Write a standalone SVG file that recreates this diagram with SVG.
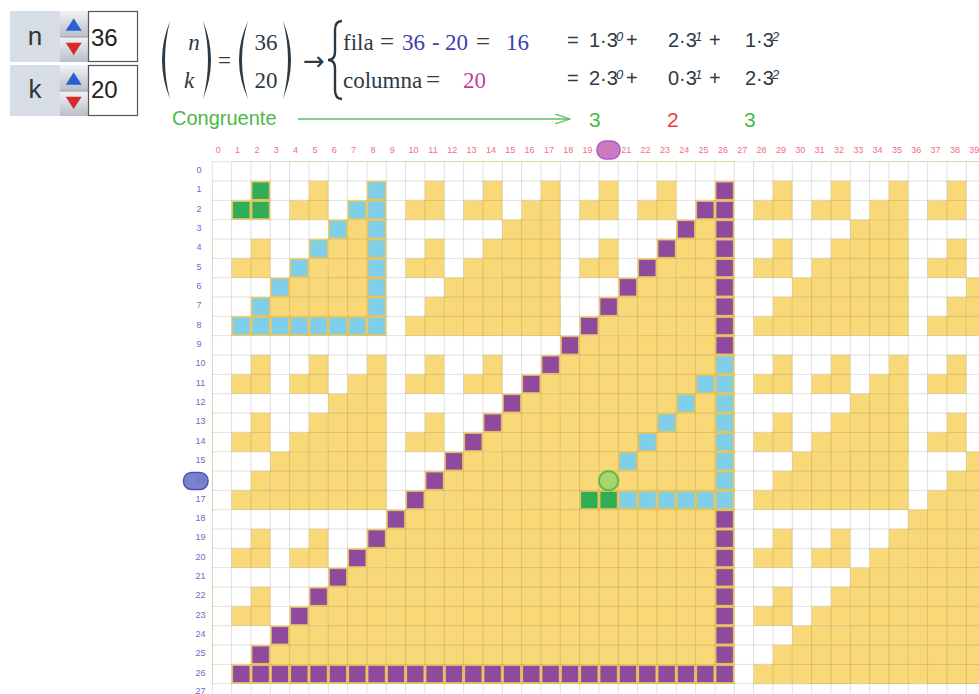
<svg xmlns="http://www.w3.org/2000/svg" width="979" height="694" viewBox="0 0 979 694">
<defs>
<style>
.cl{font-family:"Liberation Sans",Arial,sans-serif;font-size:9px;fill:#f2707a;text-anchor:middle}
.rl{font-family:"Liberation Sans",Arial,sans-serif;font-size:9px;fill:#6a6ec2;text-anchor:middle}
.p{fill:#8f4a9e}
.c{fill:#80cfe8}
.g{fill:#2fad57}
.cell{stroke:#e6c35a;stroke-width:1;vector-effect:non-scaling-stroke}
.serif{font-family:"Liberation Serif","Times New Roman",serif;font-size:23px;fill:#2d3a44}
.sans{font-family:"Liberation Sans",Arial,sans-serif;font-size:20px;fill:#2d3a44}
.sup{font-size:13px;font-style:italic}
.blue{fill:#3c3fae}
.mag{fill:#c2409f}
.inlbl{font-family:"Liberation Sans",Arial,sans-serif;font-size:26px;fill:#333;text-anchor:middle}
.innum{font-family:"Liberation Sans",Arial,sans-serif;font-size:24px;fill:#222}
.paren{fill:#2d3a44}
</style>
<linearGradient id="spg" x1="0" y1="0" x2="0" y2="1">
<stop offset="0" stop-color="#f1f3f6"/>
<stop offset="1" stop-color="#b9bfc7"/>
</linearGradient>
<pattern id="p0" width="3" height="3" patternUnits="userSpaceOnUse"><path d="M2,1H3V3H1V2H2Z" fill="#f9d977"/></pattern>
<pattern id="p1" width="9" height="9" patternUnits="userSpaceOnUse"><path d="M6,3H9V9H3V6H6Z" fill="#f9d977"/></pattern>
<pattern id="p2" width="27" height="27" patternUnits="userSpaceOnUse"><path d="M18,9H27V27H9V18H18Z" fill="#f9d977"/></pattern>
<rect id="k" class="cell" x=".05" y=".05" width=".9" height=".9"/>
<marker id="ah" markerWidth="16" markerHeight="12" refX="15" refY="5" orient="auto" markerUnits="userSpaceOnUse"><path d="M0,0L15,5L0,10" fill="none" stroke="#5cbf5a" stroke-width="1.3"/></marker>
</defs>

<g id="input-n">
<rect x="10" y="11" width="50" height="51" fill="#d6dde5"/>
<text class="inlbl" x="35" y="45">n</text>
<rect x="60" y="11" width="28" height="26" fill="url(#spg)"/>
<rect x="60" y="37" width="28" height="25" fill="url(#spg)"/>
<line x1="60" y1="37" x2="88" y2="37" stroke="#9aa0a8"/>
<path d="M65.7,30.7H81.7L73.7,18.3Z" fill="#2b5fd4"/>
<path d="M65.7,42.7H81.7L73.7,55Z" fill="#d62a2a"/>
<rect x="88.5" y="11.5" width="49" height="50" fill="#fff" stroke="#555" stroke-width="1.2"/>
<text class="innum" x="91" y="45.5">36</text>
</g>
<g id="input-k">
<rect x="10" y="65" width="50" height="51" fill="#d6dde5"/>
<text class="inlbl" x="35" y="98">k</text>
<rect x="60" y="65" width="28" height="26" fill="url(#spg)"/>
<rect x="60" y="91" width="28" height="25" fill="url(#spg)"/>
<line x1="60" y1="91" x2="88" y2="91" stroke="#9aa0a8"/>
<path d="M65.7,84.7H81.7L73.7,72.3Z" fill="#2b5fd4"/>
<path d="M65.7,96.7H81.7L73.7,109Z" fill="#d62a2a"/>
<rect x="88.5" y="65.5" width="49" height="50" fill="#fff" stroke="#555" stroke-width="1.2"/>
<text class="innum" x="91" y="98">20</text>
</g>

<g id="formula">
<path class="paren" d="M170,21Q154,60 170,99Q160,60 170,21Z"/>
<path class="paren" d="M203,21Q219,60 203,99Q213,60 203,21Z"/>
<text class="serif" x="194" y="50" text-anchor="middle" font-style="italic">n</text>
<text class="serif" x="189" y="88" text-anchor="middle" font-style="italic">k</text>
<text class="serif" x="224.5" y="68" text-anchor="middle" font-size="25">=</text>
<path class="paren" d="M248,21Q230,60 248,99Q236,60 248,21Z"/>
<path class="paren" d="M283,21Q299,60 283,99Q293,60 283,21Z"/>
<text class="serif" x="266" y="50" text-anchor="middle" font-size="25">36</text>
<text class="serif" x="266" y="88" text-anchor="middle" font-size="25">20</text>
<text x="303" y="70" font-family="DejaVu Sans,sans-serif" font-size="26" fill="#2d3a44">→</text>
<path d="M342,21Q335,21 335,30L335,52Q335,60 328,60Q335,60 335,68L335,90Q335,99 342,99" fill="none" stroke="#2d3a44" stroke-width="2.4"/>
<text class="serif" y="50"><tspan x="343">fila</tspan><tspan x="380" font-size="25">=</tspan><tspan x="402" class="blue">36</tspan><tspan x="432" class="blue">-</tspan><tspan x="445" class="blue">20</tspan><tspan x="476" font-size="25">=</tspan><tspan x="506" class="blue">16</tspan></text>
<text class="serif" y="88"><tspan x="343">columna</tspan><tspan x="426" font-size="25">=</tspan><tspan x="463" class="mag">20</tspan></text>
<text class="sans" y="47"><tspan x="567">=</tspan><tspan x="589">1·3</tspan><tspan x="616" y="41" class="sup">0</tspan><tspan x="626" y="47">+</tspan><tspan x="668">2·3</tspan><tspan x="695" y="41" class="sup">1</tspan><tspan x="709" y="47">+</tspan><tspan x="745">1·3</tspan><tspan x="772" y="41" class="sup">2</tspan></text>
<text class="sans" y="85"><tspan x="567">=</tspan><tspan x="589">2·3</tspan><tspan x="616" y="79" class="sup">0</tspan><tspan x="626" y="85">+</tspan><tspan x="668">0·3</tspan><tspan x="695" y="79" class="sup">1</tspan><tspan x="709" y="85">+</tspan><tspan x="745">2·3</tspan><tspan x="772" y="79" class="sup">2</tspan></text>
</g>

<g id="congruence" font-family="Liberation Sans,Arial,sans-serif">
<text x="172" y="125" font-size="20" fill="#4cb848">Congruente</text>
<text x="589" y="127" font-size="21" fill="#4cb848">3</text>
<text x="667" y="127" font-size="21" fill="#f03c3c">2</text>
<text x="744" y="127" font-size="21" fill="#4cb848">3</text>
</g>

<g id="connectors">
<line x1="298" y1="119" x2="570" y2="119" stroke="#5cbf5a" stroke-width="1.3" marker-end="url(#ah)"/>
</g>

<g id="grid" transform="translate(212.3 161.7) scale(19.3333)">
<rect width="40" height="28" fill="#fff"/>
<rect width="40" height="28" fill="url(#p0)"/>
<rect width="40" height="28" fill="url(#p1)"/>
<rect width="40" height="28" fill="url(#p2)"/>
<path fill="none" stroke="#000" stroke-opacity=".12" stroke-width="1" vector-effect="non-scaling-stroke" d="M0 0V28M1 0V28M2 0V28M3 0V28M4 0V28M5 0V28M6 0V28M7 0V28M8 0V28M9 0V28M10 0V28M11 0V28M12 0V28M13 0V28M14 0V28M15 0V28M16 0V28M17 0V28M18 0V28M19 0V28M20 0V28M21 0V28M22 0V28M23 0V28M24 0V28M25 0V28M26 0V28M27 0V28M28 0V28M29 0V28M30 0V28M31 0V28M32 0V28M33 0V28M34 0V28M35 0V28M36 0V28M37 0V28M38 0V28M39 0V28M40 0V28M0 0H40M0 1H40M0 2H40M0 3H40M0 4H40M0 5H40M0 6H40M0 7H40M0 8H40M0 9H40M0 10H40M0 11H40M0 12H40M0 13H40M0 14H40M0 15H40M0 16H40M0 17H40M0 18H40M0 19H40M0 20H40M0 21H40M0 22H40M0 23H40M0 24H40M0 25H40M0 26H40M0 27H40M0 28H40"/>
<g id="green-cells" class="g">
<use href="#k" x="2" y="1"/><use href="#k" x="1" y="2"/><use href="#k" x="2" y="2"/>
<use href="#k" x="19" y="17"/><use href="#k" x="20" y="17"/>
</g>
<g id="cyan-cells" class="c">
<use href="#k" x="1" y="8"/><use href="#k" x="2" y="8"/><use href="#k" x="3" y="8"/><use href="#k" x="4" y="8"/><use href="#k" x="5" y="8"/><use href="#k" x="6" y="8"/><use href="#k" x="7" y="8"/><use href="#k" x="8" y="8"/>
<use href="#k" x="8" y="1"/><use href="#k" x="8" y="2"/><use href="#k" x="8" y="3"/><use href="#k" x="8" y="4"/><use href="#k" x="8" y="5"/><use href="#k" x="8" y="6"/><use href="#k" x="8" y="7"/>
<use href="#k" x="7" y="2"/><use href="#k" x="6" y="3"/><use href="#k" x="5" y="4"/><use href="#k" x="4" y="5"/><use href="#k" x="3" y="6"/><use href="#k" x="2" y="7"/>
<use href="#k" x="21" y="17"/><use href="#k" x="22" y="17"/><use href="#k" x="23" y="17"/><use href="#k" x="24" y="17"/><use href="#k" x="25" y="17"/><use href="#k" x="26" y="17"/>
<use href="#k" x="26" y="10"/><use href="#k" x="26" y="11"/><use href="#k" x="26" y="12"/><use href="#k" x="26" y="13"/><use href="#k" x="26" y="14"/><use href="#k" x="26" y="15"/><use href="#k" x="26" y="16"/>
<use href="#k" x="25" y="11"/><use href="#k" x="24" y="12"/><use href="#k" x="23" y="13"/><use href="#k" x="22" y="14"/><use href="#k" x="21" y="15"/>
</g>
<g id="purple-cells" class="p">
<use href="#k" x="1" y="26"/><use href="#k" x="2" y="26"/><use href="#k" x="3" y="26"/><use href="#k" x="4" y="26"/><use href="#k" x="5" y="26"/><use href="#k" x="6" y="26"/><use href="#k" x="7" y="26"/><use href="#k" x="8" y="26"/><use href="#k" x="9" y="26"/><use href="#k" x="10" y="26"/><use href="#k" x="11" y="26"/><use href="#k" x="12" y="26"/><use href="#k" x="13" y="26"/><use href="#k" x="14" y="26"/><use href="#k" x="15" y="26"/><use href="#k" x="16" y="26"/><use href="#k" x="17" y="26"/><use href="#k" x="18" y="26"/><use href="#k" x="19" y="26"/><use href="#k" x="20" y="26"/><use href="#k" x="21" y="26"/><use href="#k" x="22" y="26"/><use href="#k" x="23" y="26"/><use href="#k" x="24" y="26"/><use href="#k" x="25" y="26"/><use href="#k" x="26" y="26"/>
<use href="#k" x="26" y="1"/><use href="#k" x="26" y="2"/><use href="#k" x="26" y="3"/><use href="#k" x="26" y="4"/><use href="#k" x="26" y="5"/><use href="#k" x="26" y="6"/><use href="#k" x="26" y="7"/><use href="#k" x="26" y="8"/><use href="#k" x="26" y="9"/>
<use href="#k" x="26" y="18"/><use href="#k" x="26" y="19"/><use href="#k" x="26" y="20"/><use href="#k" x="26" y="21"/><use href="#k" x="26" y="22"/><use href="#k" x="26" y="23"/><use href="#k" x="26" y="24"/><use href="#k" x="26" y="25"/>
<use href="#k" x="25" y="2"/><use href="#k" x="24" y="3"/><use href="#k" x="23" y="4"/><use href="#k" x="22" y="5"/><use href="#k" x="21" y="6"/><use href="#k" x="20" y="7"/><use href="#k" x="19" y="8"/><use href="#k" x="18" y="9"/><use href="#k" x="17" y="10"/><use href="#k" x="16" y="11"/><use href="#k" x="15" y="12"/><use href="#k" x="14" y="13"/><use href="#k" x="13" y="14"/><use href="#k" x="12" y="15"/><use href="#k" x="11" y="16"/><use href="#k" x="10" y="17"/><use href="#k" x="9" y="18"/><use href="#k" x="8" y="19"/><use href="#k" x="7" y="20"/><use href="#k" x="6" y="21"/><use href="#k" x="5" y="22"/><use href="#k" x="4" y="23"/><use href="#k" x="3" y="24"/><use href="#k" x="2" y="25"/>
</g>
<circle id="selected" cx="20.5" cy="16.5" r=".5" fill="#a8d46c" stroke="#62bb4a" stroke-width="2" vector-effect="non-scaling-stroke"/>
</g>

<g id="col-labels">
<rect x="597" y="141" width="23" height="18" rx="8.5" fill="#c57bc8" stroke="#b55ab8" stroke-width="1.5"/>
<text class="cl" x="218.3" y="153.3">0</text><text class="cl" x="237.6" y="153.3">1</text><text class="cl" x="257" y="153.3">2</text><text class="cl" x="276.3" y="153.3">3</text><text class="cl" x="295.6" y="153.3">4</text><text class="cl" x="315" y="153.3">5</text><text class="cl" x="334.3" y="153.3">6</text><text class="cl" x="353.6" y="153.3">7</text><text class="cl" x="373" y="153.3">8</text><text class="cl" x="392.3" y="153.3">9</text>
<text class="cl" x="413.6" y="153.3">10</text><text class="cl" x="433" y="153.3">11</text><text class="cl" x="452.3" y="153.3">12</text><text class="cl" x="471.6" y="153.3">13</text><text class="cl" x="491" y="153.3">14</text><text class="cl" x="510.3" y="153.3">15</text><text class="cl" x="529.6" y="153.3">16</text><text class="cl" x="549" y="153.3">17</text><text class="cl" x="568.3" y="153.3">18</text><text class="cl" x="587.6" y="153.3">19</text>
<text class="cl" x="607" y="153.3">20</text><text class="cl" x="626.3" y="153.3">21</text><text class="cl" x="645.6" y="153.3">22</text><text class="cl" x="665" y="153.3">23</text><text class="cl" x="684.3" y="153.3">24</text><text class="cl" x="703.6" y="153.3">25</text><text class="cl" x="723" y="153.3">26</text><text class="cl" x="742.3" y="153.3">27</text><text class="cl" x="761.6" y="153.3">28</text><text class="cl" x="781" y="153.3">29</text>
<text class="cl" x="800.3" y="153.3">30</text><text class="cl" x="819.6" y="153.3">31</text><text class="cl" x="839" y="153.3">32</text><text class="cl" x="858.3" y="153.3">33</text><text class="cl" x="877.6" y="153.3">34</text><text class="cl" x="897" y="153.3">35</text><text class="cl" x="916.3" y="153.3">36</text><text class="cl" x="935.6" y="153.3">37</text><text class="cl" x="955" y="153.3">38</text><text class="cl" x="974.3" y="153.3">39</text>
</g>

<g id="row-labels">
<rect x="183.5" y="472.5" width="24.5" height="17" rx="8" fill="#7b82cc" stroke="#4b55b0" stroke-width="1.5"/>
<text class="rl" x="199" y="172.9">0</text><text class="rl" x="199" y="192.2">1</text><text class="rl" x="199" y="211.6">2</text><text class="rl" x="199" y="230.9">3</text><text class="rl" x="199" y="250.2">4</text><text class="rl" x="199" y="269.6">5</text><text class="rl" x="199" y="288.9">6</text><text class="rl" x="199" y="308.2">7</text><text class="rl" x="199" y="327.6">8</text><text class="rl" x="199" y="346.9">9</text>
<text class="rl" x="200.5" y="366.2">10</text><text class="rl" x="200.5" y="385.6">11</text><text class="rl" x="200.5" y="404.9">12</text><text class="rl" x="200.5" y="424.2">13</text><text class="rl" x="200.5" y="443.6">14</text><text class="rl" x="200.5" y="462.9">15</text><text class="rl" x="200.5" y="482.2">16</text><text class="rl" x="200.5" y="501.6">17</text><text class="rl" x="200.5" y="520.9">18</text><text class="rl" x="200.5" y="540.2">19</text>
<text class="rl" x="200.5" y="559.6">20</text><text class="rl" x="200.5" y="578.9">21</text><text class="rl" x="200.5" y="598.2">22</text><text class="rl" x="200.5" y="617.6">23</text><text class="rl" x="200.5" y="636.9">24</text><text class="rl" x="200.5" y="656.2">25</text><text class="rl" x="200.5" y="675.6">26</text><text class="rl" x="200.5" y="694">27</text>
</g>
</svg>
